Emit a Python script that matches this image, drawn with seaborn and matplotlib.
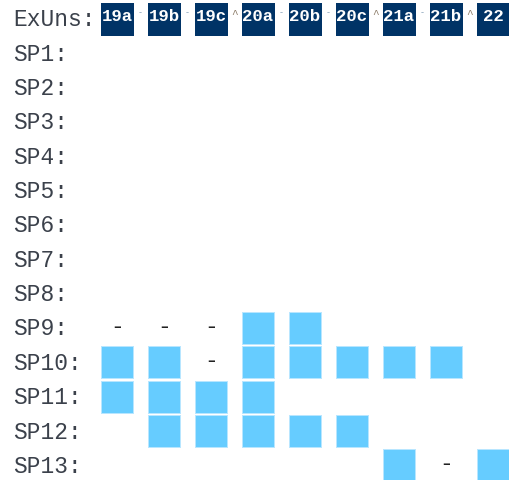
import matplotlib
matplotlib.use("Agg")
import matplotlib.pyplot as plt
import matplotlib.transforms as mtransforms
import pandas as pd
import seaborn as sns

# Exam units (columns) and the link marks printed between neighbouring units
units = ["19a", "19b", "19c", "20a", "20b", "20c", "21a", "21b", "22"]
links = ["-", "-", "^", "-", "-", "^", "-", "^"]

# Study programmes (rows)
programmes = [f"SP{i}" for i in range(1, 14)]

# Per-programme status for each unit: "#" = covered, "-" = noted, "" = nothing
sp_empty = ["", "", "", "", "", "", "", "", ""]
sp9 = ["-", "-", "-", "#", "#", "", "", "", ""]
sp10 = ["#", "#", "-", "#", "#", "#", "#", "#", ""]
sp11 = ["#", "#", "#", "#", "", "", "", "", ""]
sp12 = ["", "#", "#", "#", "#", "#", "", "", ""]
sp13 = ["", "", "", "", "", "", "#", "-", "#"]
status = [sp_empty] * 8 + [sp9, sp10, sp11, sp12, sp13]

# long table: row 0 is the header line, rows 1..13 the programmes
records = []
for r, marks in enumerate(status, start=1):
    for c, m in enumerate(marks):
        if m:
            records.append({"col": c, "row": r, "mark": m})
grid = pd.DataFrame(records)
head = pd.DataFrame({"col": range(len(units)), "row": [0] * len(units), "unit": units})

sns.set_theme(style="white")
plt.rcParams["font.family"] = ["Liberation Mono", "DejaVu Sans Mono"]

W, H, DPI = 510, 480, 100
COL0, COLSTEP = 117.0, 47.0     # pixel centre of first unit column, column pitch
ROW0, ROWSTEP = 18.8, 34.35     # pixel centre of header line, line pitch
PT = 72.0 / DPI                 # points per pixel

fig = plt.figure(figsize=(W / DPI, H / DPI), dpi=DPI)
ax = fig.add_axes([0, 0, 1, 1])

# navy unit tiles on the header line
sns.scatterplot(data=head, x="col", y="row", marker="s", s=(33 * PT) ** 2,
                color="#003366", linewidth=0, legend=False, ax=ax)

# covered cells
covered = grid[grid["mark"] == "#"]
sns.scatterplot(data=covered, x="col", y="row", marker="s", s=(32 * PT) ** 2,
                color="#66ccff", edgecolor="#b8e6ff", linewidth=1 * PT,
                legend=False, ax=ax)

ax.set_xlim(-COL0 / COLSTEP, (W - COL0) / COLSTEP)
ax.set_ylim((H - ROW0) / ROWSTEP, -ROW0 / ROWSTEP)
ax.set_axis_off()

label_color = "#3b414b"
left = mtransforms.blended_transform_factory(ax.transAxes, ax.transData)

# header line
ax.text(13 / W, 0 + 7.5 / ROWSTEP, "ExUns:", transform=left, ha="left",
        va="baseline", fontsize=16.5, color=label_color)
for c, u in enumerate(units):
    ax.text(c, 2.5 / ROWSTEP, u, ha="center", va="baseline", color="white",
            fontsize=12.5, fontweight="bold")
for c, l in enumerate(links):
    if l == "^":
        ax.text(c + 0.5, -0.05, l, ha="center", va="baseline",
                fontsize=8, color="#8a7a66")
    else:
        ax.text(c + 0.5, -0.13, l, ha="center", va="baseline",
                fontsize=6, color="#6a8aa8")

# programme labels
for r, p in enumerate(programmes, start=1):
    ax.text(13 / W, r + 7.5 / ROWSTEP, f"{p}:", transform=left, ha="left",
            va="baseline", fontsize=16.5, color=label_color)

# noted cells
for _, rec in grid[grid["mark"] == "-"].iterrows():
    ax.text(rec["col"], rec["row"] + 5 / ROWSTEP, "-", ha="center",
            va="baseline", fontsize=16.5, color="#222222")

fig.savefig("out.png", dpi=DPI)
